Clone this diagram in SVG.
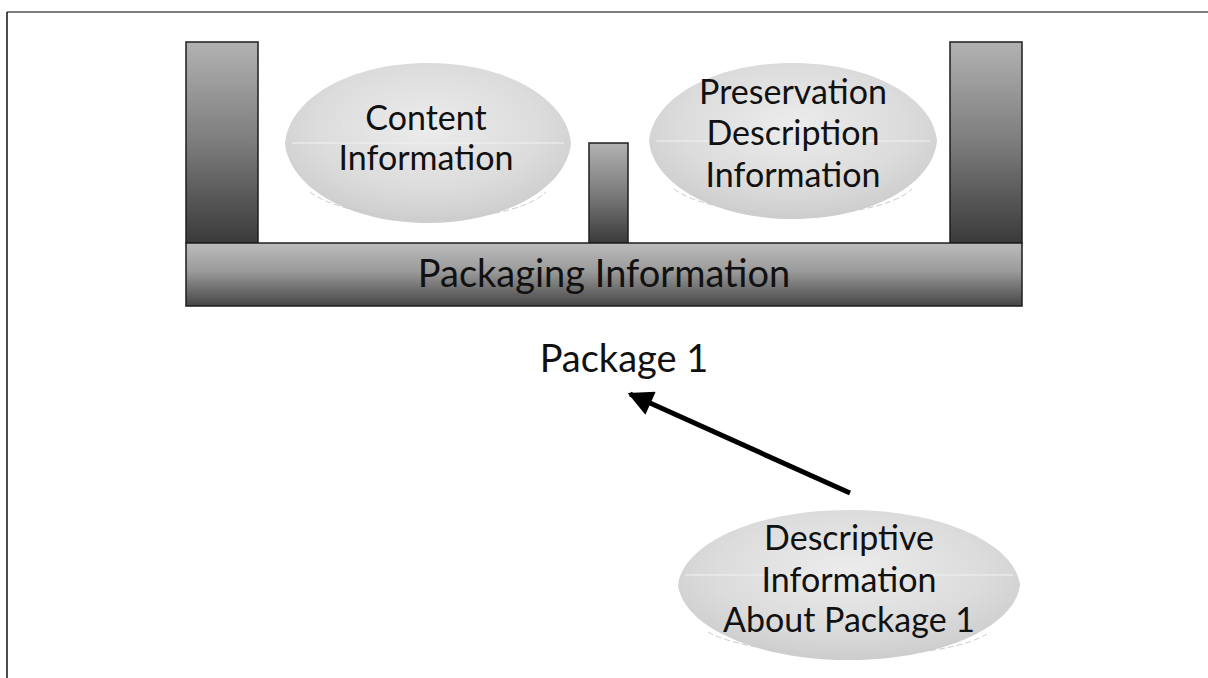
<svg xmlns="http://www.w3.org/2000/svg" width="1208" height="678" viewBox="0 0 1208 678">
<defs>
<linearGradient id="pillar" x1="0" y1="0" x2="0" y2="1">
<stop offset="0" stop-color="#b2b2b2"/>
<stop offset="0.5" stop-color="#7c7c7c"/>
<stop offset="1" stop-color="#3a3a3a"/>
</linearGradient>
<linearGradient id="base" x1="0" y1="0" x2="0" y2="1">
<stop offset="0" stop-color="#bcbcbc"/>
<stop offset="0.45" stop-color="#9a9a9a"/>
<stop offset="1" stop-color="#454545"/>
</linearGradient>
<radialGradient id="lens" cx="0.5" cy="0.4" r="0.6">
<stop offset="0" stop-color="#ececec"/>
<stop offset="0.65" stop-color="#dcdcdc"/>
<stop offset="1" stop-color="#cdcdcd"/>
</radialGradient>
<marker id="arrow" viewBox="0 0 10 10" refX="9" refY="5" markerWidth="5.5" markerHeight="5" orient="auto" markerUnits="strokeWidth">
<path d="M0,0 L10,5 L0,10 Z" fill="#000"/>
</marker>
</defs>
<style>
.bar{stroke:#1e1e1e;stroke-width:1.5}
.lens{fill:url(#lens)}
.rim{fill:none;stroke:#cccccc;stroke-width:1;stroke-dasharray:6 3}
.mid{stroke:#f2f2f2;stroke-width:1}
.t{font-family:Lato,"Liberation Sans",sans-serif;fill:#111;text-anchor:middle}
.tl{font-size:34px}
.tb{font-size:38px}
</style>
<rect width="1208" height="678" fill="#fff"/>
<g id="frame">
<line x1="7" y1="12" x2="1208" y2="12" stroke="#555" stroke-width="1.5"/>
<line x1="7" y1="12" x2="7" y2="678" stroke="#111" stroke-width="1.5"/>
</g>
<g id="packaging">
<rect class="bar" x="186" y="42" width="72" height="201" fill="url(#pillar)"/>
<rect class="bar" x="589" y="143" width="39" height="100" fill="url(#pillar)"/>
<rect class="bar" x="950" y="42" width="72" height="201" fill="url(#pillar)"/>
<rect class="bar" x="186" y="243" width="836" height="63" fill="url(#base)"/>
<text class="t tb" x="604" y="287">Packaging Information</text>
</g>
<g id="content">
<path class="lens" d="M285,143 C289,99 349,63 428,63 C507,63 567,99 571,143 C567,187 507,223 428,223 C349,223 289,187 285,143 Z"/>
<path class="rim" d="M310,192 C350,224 506,230 546,192"/>
<line class="mid" x1="292" y1="143" x2="564" y2="143"/>
<text class="t tl" x="426" y="130">Content</text>
<text class="t tl" x="426" y="170">Information</text>
</g>
<g id="preservation">
<path class="lens" d="M649,141 C653,98 714,63 793,63 C872,63 933,98 937,141 C933,184 872,219 793,219 C714,219 653,184 649,141 Z"/>
<path class="rim" d="M674,189 C714,220 872,226 912,189"/>
<line class="mid" x1="656" y1="141" x2="930" y2="141"/>
<text class="t tl" x="793" y="104">Preservation</text>
<text class="t tl" x="793" y="145">Description</text>
<text class="t tl" x="793" y="187">Information</text>
</g>
<g id="package1">
<text class="t tb" x="624" y="372">Package 1</text>
</g>
<g id="descriptive">
<path class="lens" d="M678,585 C683,544 755,510 849,510 C943,510 1015,544 1020,585 C1015,626 943,660 849,660 C755,660 683,626 678,585 Z"/>
<path class="rim" d="M708,632 C756,660 942,666 990,632"/>
<line class="mid" x1="685" y1="575" x2="1013" y2="575"/>
<text class="t tl" x="849" y="550">Descriptive</text>
<text class="t tl" x="849" y="592">Information</text>
<text class="t tl" x="849" y="632">About Package 1</text>
</g>
<g id="connectors">
<line x1="850" y1="493" x2="630" y2="394" stroke="#000" stroke-width="5" marker-end="url(#arrow)"/>
</g>
</svg>
